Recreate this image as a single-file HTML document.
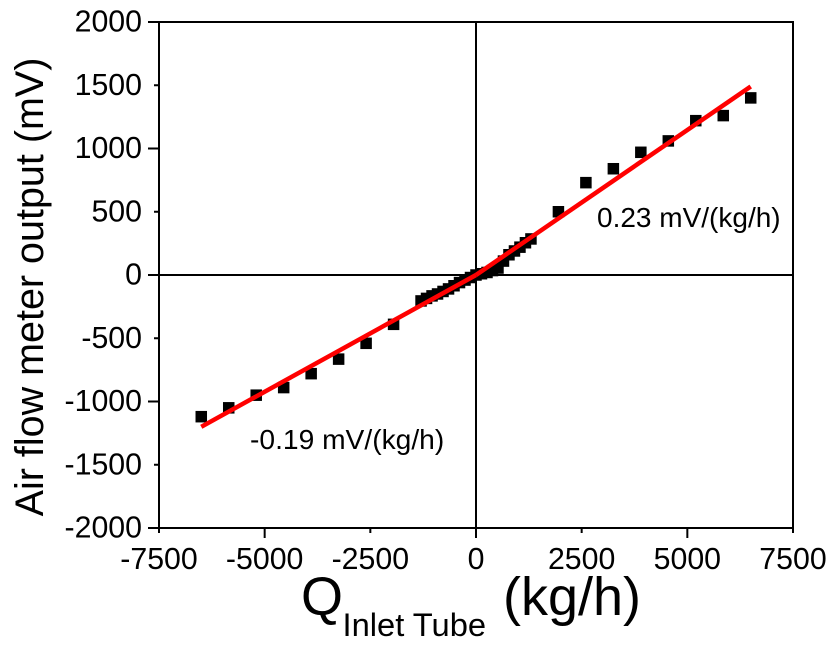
<!DOCTYPE html>
<html>
<head>
<meta charset="utf-8">
<style>
html,body{margin:0;padding:0;background:#fff;width:835px;height:651px;overflow:hidden}
svg{display:block}
text{font-family:"Liberation Sans",Arial,sans-serif;fill:#000}
</style>
</head>
<body>
<svg id="chart" width="835" height="651" viewBox="0 0 835 651">
<g id="grid"></g>
<g id="ticks"></g>
<g id="points"></g>
<g id="fits"></g>
<text x="597" y="227" font-size="28">0.23 mV/(kg/h)</text>
<text x="250" y="449" font-size="28.2">-0.19 mV/(kg/h)</text>
<text transform="translate(43,287) rotate(-90)" text-anchor="middle" font-size="39.5">Air flow meter output (mV)</text>
<text x="301" y="615" font-size="54">Q<tspan x="342.5" y="636" font-size="32.7">Inlet Tube</tspan><tspan x="503" y="615" font-size="54">(kg/h)</tspan></text>
</svg>
<script>
const xTicks = [-7500, -5000, -2500, 0, 2500, 5000, 7500];
const yTicks = [-2000, -1500, -1000, -500, 0, 500, 1000, 1500, 2000];
const flowValues = [-6500, -5850, -5200, -4550, -3900, -3250, -2600, -1950, -1300, -1170, -1040, -910, -780, -650, -520, -390, -260, -130, 0, 130, 260, 390, 520, 650, 780, 910, 1040, 1170, 1300, 1950, 2600, 3250, 3900, 4550, 5200, 5850, 6500];
const outputValues = [-1120, -1050, -950, -890, -780, -665, -540, -390, -205, -185, -165, -150, -130, -110, -85, -60, -40, -20, 0, 10, 20, 35, 55, 110, 160, 190, 220, 255, 285, 500, 730, 840, 970, 1060, 1220, 1260, 1400];
const fitNegativeX = [-6500, 0];
const fitNegativeY = [-1200, 0];
const fitPositiveX = [0, 6500];
const fitPositiveY = [0, 1490];

const NS = 'http://www.w3.org/2000/svg';
const plot = { left: 159, right: 793, top: 22, bottom: 528 };
const xScale = v => plot.left + (v - (-7500)) / 15000 * (plot.right - plot.left);
const yScale = v => plot.bottom - (v - (-2000)) / 4000 * (plot.bottom - plot.top);
function make(tag, attrs, parent) {
  const el = document.createElementNS(NS, tag);
  for (const k in attrs) el.setAttribute(k, attrs[k]);
  parent.appendChild(el);
  return el;
}
const gridG = document.getElementById('grid');
const ticksG = document.getElementById('ticks');
const pointsG = document.getElementById('points');
const fitsG = document.getElementById('fits');

const frame = make('rect', { x: plot.left, y: plot.top, width: plot.right - plot.left, height: plot.bottom - plot.top, fill: 'none', stroke: '#000', 'stroke-width': 2 }, gridG);


const zeroV = make('line', { x1: xScale(0), x2: xScale(0), y1: plot.top, y2: plot.bottom, stroke: '#000', 'stroke-width': 2 }, gridG);


const zeroH = make('line', { x1: plot.left, x2: plot.right, y1: yScale(0), y2: yScale(0), stroke: '#000', 'stroke-width': 2 }, gridG);



xTicks.forEach((t, i) => {
  const len = i % 2 === 1 ? 10 : 5;
  const mark = make('line', { x1: xScale(t), x2: xScale(t), y1: plot.bottom, y2: plot.bottom + len, stroke: '#000', 'stroke-width': 2 }, ticksG);
  
  
  const label = make('text', { x: xScale(t), y: 569, 'text-anchor': 'middle', 'font-size': 30.3 }, ticksG);
  label.textContent = String(t);
  
  
});
yTicks.forEach((t, i) => {
  const len = i % 2 === 0 ? 11 : 5;
  const mark = make('line', { x1: plot.left - len, x2: plot.left, y1: yScale(t), y2: yScale(t), stroke: '#000', 'stroke-width': 2 }, ticksG);
  
  
  const label = make('text', { x: plot.left - 17, y: yScale(t) + 9.5, 'text-anchor': 'end', 'font-size': 30.3 }, ticksG);
  label.textContent = String(t);
  
  
});
flowValues.forEach((f, i) => {
  const s = 11.5;
  const pt = make('rect', { x: xScale(f) - s / 2, y: yScale(outputValues[i]) - s / 2, width: s, height: s, fill: '#000' }, pointsG);
  
  
});
function fit(xs, ys, name) {
  const pts = xs.map((x, i) => xScale(x) + ',' + yScale(ys[i])).join(' ');
  const line = make('polyline', { points: pts, fill: 'none', stroke: '#f00', 'stroke-width': 4.5 }, fitsG);
  
  
}
fit(fitNegativeX, fitNegativeY, 'negative-fit-line');
fit(fitPositiveX, fitPositiveY, 'positive-fit-line');
</script>
</body>
</html>
